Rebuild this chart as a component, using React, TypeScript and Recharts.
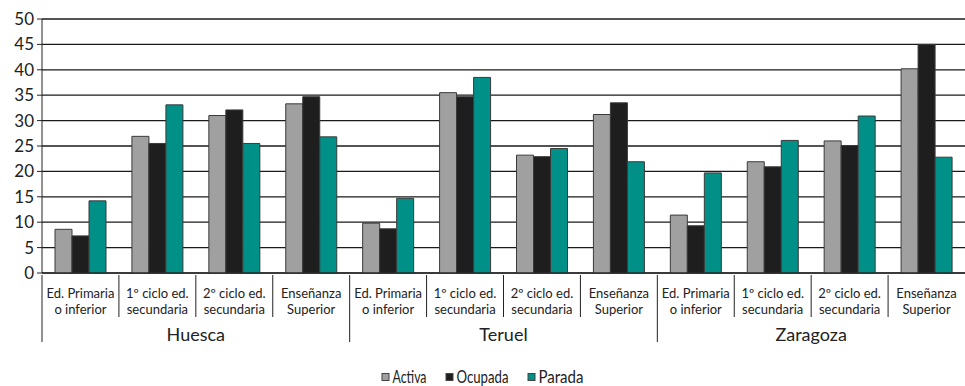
import { BarChart, Bar, XAxis, YAxis, CartesianGrid, Legend } from 'recharts'

const provinces = ['Huesca', 'Teruel', 'Zaragoza']
const levelTop = ['Ed. Primaria', '1º ciclo ed.', '2º ciclo ed.', 'Enseñanza']
const levelBottom = ['o inferior', 'secundaria', 'secundaria', 'Superior']

const activa = [8.6, 26.9, 31.0, 33.3, 9.8, 35.5, 23.2, 31.2, 11.4, 21.9, 26.0, 40.2]
const ocupada = [7.3, 25.5, 32.1, 34.7, 8.7, 34.7, 22.9, 33.5, 9.3, 20.9, 25.1, 45.0]
const parada = [14.2, 33.1, 25.5, 26.8, 14.7, 38.5, 24.5, 21.9, 19.7, 26.1, 30.9, 22.8]

const yTicks = [0, 5, 10, 15, 20, 25, 30, 35, 40, 45, 50]

const seriesInfo = [
  { key: 'activa', name: 'Activa', color: '#a0a0a0', textW: 34 },
  { key: 'ocupada', name: 'Ocupada', color: '#1e1e1e', textW: 52 },
  { key: 'parada', name: 'Parada', color: '#009088', textW: 45 },
]

const data = activa.map((v, i) => ({
  key: provinces[Math.floor(i / 4)] + '-' + (i % 4),
  activa: v,
  ocupada: ocupada[i],
  parada: parada[i],
}))

const W = 965
const H = 386
const Y_W = 42
const BAND = (W - Y_W) / data.length
const font = 'Lato, "Open Sans", sans-serif'

function CategoryTick(props: any) {
  const { x, y, payload } = props
  const i = payload.index
  const left = x - BAND / 2
  const groupStart = i % 4 === 0
  return (
    <g>
      <line x1={left} x2={left} y1={y} y2={y + (groupStart ? 67 : 42)} stroke="#222" strokeWidth={1} />
      <text x={x} y={y + 22.5} textAnchor="middle" fontSize={13} fill="#222" fontFamily={font}>
        <tspan x={x}>{levelTop[i % 4]}</tspan>
        <tspan x={x} dy={16}>
          {levelBottom[i % 4]}
        </tspan>
      </text>
      {i % 4 === 1 && (
        <text x={x + BAND / 2} y={y + 66} textAnchor="middle" fontSize={18} fill="#222" fontFamily={font}>
          {provinces[Math.floor(i / 4)]}
        </text>
      )}
    </g>
  )
}

function LegendContent() {
  const box = 8
  const boxGap = 3
  const itemGap = 19
  const total = seriesInfo.reduce((acc, s) => acc + box + boxGap + s.textW, 0) + itemGap * (seriesInfo.length - 1)
  let cx = (W - total) / 2
  const items = seriesInfo.map((s) => {
    const x0 = cx
    cx += box + boxGap + s.textW + itemGap
    return (
      <g key={s.key}>
        <rect x={x0 + 0.5} y={25.5} width={box - 1} height={box - 1} fill={s.color} stroke="#444" />
        <text
          x={x0 + box + boxGap}
          y={35}
          fontSize={17}
          fill="#222"
          fontFamily={font}
          textLength={s.textW}
          lengthAdjust="spacingAndGlyphs"
        >
          {s.name}
        </text>
      </g>
    )
  })
  return (
    <svg width={W} height={38} style={{ display: 'block' }}>
      {items}
    </svg>
  )
}

export default function App() {
  return (
    <div style={{ position: 'absolute', left: 0, top: 0, background: '#fff' }}>
      <BarChart
        width={W}
        height={H}
        data={data}
        margin={{ top: 19, right: 0, left: 0, bottom: 0 }}
        barCategoryGap={13}
        barGap={0}
      >
        <CartesianGrid vertical={false} stroke="#1a1a1a" strokeWidth={1.3} />
        <YAxis
          width={Y_W}
          domain={[0, 50]}
          ticks={yTicks}
          interval={0}
          axisLine={{ stroke: '#222' }}
          tickLine={{ stroke: '#222' }}
          tickSize={5}
          tickMargin={3}
          tick={{ fontSize: 17, fill: '#222', fontFamily: font }}
        />
        <XAxis
          dataKey="key"
          interval={0}
          height={75}
          tickLine={false}
          tickSize={0}
          axisLine={{ stroke: '#222' }}
          tick={<CategoryTick />}
        />
        <Legend verticalAlign="bottom" height={38} content={<LegendContent />} />
        {seriesInfo.map((s) => (
          <Bar
            key={s.key}
            dataKey={s.key}
            name={s.name}
            fill={s.color}
            stroke="#3a3a3a"
            strokeWidth={1}
            isAnimationActive={false}
          />
        ))}
      </BarChart>
    </div>
  )
}
